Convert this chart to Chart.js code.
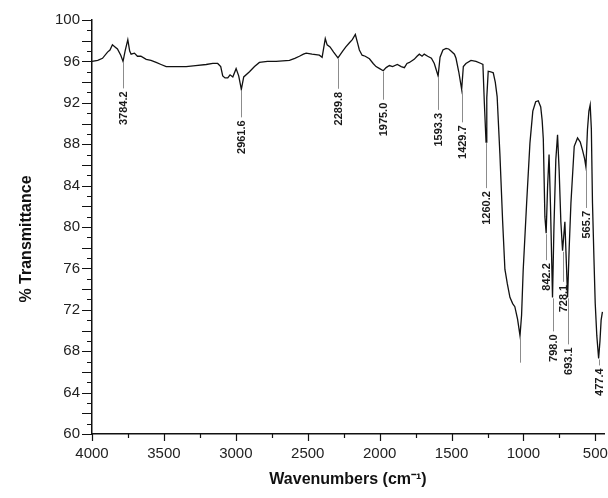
<!DOCTYPE html>
<html>
<head>
<meta charset="utf-8">
<script src="https://cdn.jsdelivr.net/npm/chart.js@4.4.0/dist/chart.umd.min.js"></script>
<style>
  html, body { margin: 0; padding: 0; background: #fff; }
</style>
</head>
<body>
<canvas id="irChart" width="608" height="498"></canvas>
<script>
// spectrum (cm-1 / %T)
const wavenumbers = [
  4000, 3960, 3927, 3892, 3875, 3858, 3840, 3823, 3800, 3784.2,
  3770, 3751, 3738, 3728, 3705, 3684, 3660, 3623, 3590, 3554,
  3520, 3484, 3420, 3345, 3280, 3206, 3160, 3126, 3105, 3091,
  3075, 3056, 3040, 3021, 2998, 2980, 2961.6, 2945, 2905, 2870,
  2836, 2780, 2720, 2627, 2590, 2558, 2530, 2511, 2470, 2419,
  2400, 2378, 2365, 2345, 2320, 2289.8, 2257, 2235, 2210, 2190,
  2169, 2150, 2141, 2122, 2100, 2071, 2045, 2025, 2000, 1975.0,
  1955, 1932, 1910, 1877, 1850, 1828, 1810, 1793, 1760, 1740,
  1724, 1705, 1690, 1666, 1640, 1620, 1593.3, 1580, 1560, 1538,
  1520, 1504, 1480, 1469, 1450, 1429.7, 1418, 1400, 1365, 1330,
  1295, 1282, 1272, 1260.2, 1255, 1245, 1228, 1210, 1196, 1183,
  1164, 1145, 1129, 1125, 1112, 1094, 1075, 1060, 1041, 1024,
  1013, 1002, 978, 955, 935, 915, 897, 880, 870, 862,
  851, 842.2, 832, 822, 812, 798.0, 788, 775, 763, 752,
  740, 728.1, 712, 703, 693.1, 682, 670, 647, 624, 605,
  589, 575, 565.7, 555, 545, 536, 528, 520, 510, 501,
  490, 477.4, 468, 460, 451
];
const transmittance = [
  96.0, 96.1, 96.3, 96.9, 97.1, 97.6, 97.4, 97.2, 96.6, 96.0,
  97.0, 98.1, 97.0, 96.7, 96.8, 96.5, 96.5, 96.2, 96.1, 95.9,
  95.7, 95.5, 95.5, 95.5, 95.6, 95.7, 95.8, 95.8, 95.5, 94.6,
  94.4, 94.4, 94.7, 94.5, 95.3, 94.6, 93.3, 94.5, 95.0, 95.5,
  95.9, 96.0, 96.0, 96.1, 96.3, 96.5, 96.7, 96.8, 96.7, 96.6,
  96.4, 98.2, 97.6, 97.4, 96.9, 96.35, 97.0, 97.4, 97.8, 98.1,
  98.6, 97.6, 97.1, 96.6, 96.5, 96.25, 95.8, 95.5, 95.3, 95.1,
  95.4, 95.6, 95.5, 95.7, 95.5, 95.4, 95.8, 95.9, 96.2, 96.5,
  96.7, 96.5, 96.7, 96.5, 96.3, 95.8, 94.6, 96.4, 97.1, 97.25,
  97.2, 97.0, 96.7, 96.3, 95.0, 93.3, 95.5, 95.8, 96.1, 96.0,
  95.8, 95.7, 92.0, 88.2, 92.5, 95.05, 95.0, 94.9, 94.0, 92.6,
  87.1, 80.6, 75.9, 75.6, 74.5, 73.2, 72.6, 72.3, 71.1, 69.5,
  71.5, 75.8, 82.3, 88.1, 91.2, 92.1, 92.2, 91.6, 90.3, 88.5,
  81.0, 79.4, 84.0, 87.0, 82.0, 73.2, 80.0, 86.5, 88.9, 85.5,
  80.5, 77.7, 80.5, 77.0, 73.2, 78.0, 82.3, 87.8, 88.6, 88.2,
  87.4, 86.6, 85.8, 89.4, 91.2, 91.8, 89.5, 82.3, 77.0, 72.6,
  69.5, 67.3, 69.0, 71.0, 71.8
];

// labelled bands (empty text = leader line only)
const peakWavenumbers = [3784.2, 2961.6, 2289.8, 1975.0, 1593.3, 1429.7, 1260.2, 1024, 842.2, 798.0, 728.1, 693.1, 565.7, 477.4];
const peakLabels = ["3784.2", "2961.6", "2289.8", "1975.0", "1593.3", "1429.7", "1260.2", "", "842.2", "798.0", "728.1", "693.1", "565.7", "477.4"];

// axis ticks
const xTickValues = [4000, 3500, 3000, 2500, 2000, 1500, 1000, 500];
const xMin = 440, xMax = 4000, xMinor = 250;
const yMin = 60, yMax = 100, yMajor = 2, yMinor = 1;

const FONT = '"Liberation Sans", Arial, sans-serif';

const axisTicks = {
  id: "axisTicks",
  afterDraw(chart) {
    const { ctx, chartArea, scales: { x, y } } = chart;
    ctx.save();
    ctx.strokeStyle = "#111";
    ctx.lineWidth = 1.2;
    ctx.beginPath();
    for (let v = yMin; v <= yMax; v += yMinor) {
      const py = Math.round(y.getPixelForValue(v)) + 0.5;
      const len = v % yMajor === 0 ? 10 : 5;
      ctx.moveTo(chartArea.left, py);
      ctx.lineTo(chartArea.left - len, py);
    }
    for (let v = 500; v <= xMax; v += xMinor) {
      const px = Math.round(x.getPixelForValue(v)) + 0.5;
      const len = xTickValues.includes(v) ? 7 : 4;
      ctx.moveTo(px, chartArea.bottom);
      ctx.lineTo(px, chartArea.bottom + len);
    }
    ctx.stroke();

    // y axis title
    ctx.translate(27, (chartArea.top + chartArea.bottom) / 2 + 12);
    ctx.rotate(-Math.PI / 2);
    ctx.font = "bold 16px " + FONT;
    ctx.fillStyle = "#111";
    ctx.textAlign = "center";
    ctx.textBaseline = "middle";
    ctx.fillText("% Transmittance", 0, 0);
    ctx.restore();
  }
};

const peakMarks = {
  id: "peakMarks",
  afterDatasetsDraw(chart, args, opts) {
    const { ctx, scales: { x, y } } = chart;
    ctx.save();
    peakWavenumbers.forEach((wn, i) => {
      const k = wavenumbers.indexOf(wn);
      const px = Math.round(x.getPixelForValue(wn)) + 0.5;
      const top = y.getPixelForValue(transmittance[k]) + 1;
      const bottom = top + opts.leaderLength[i];
      ctx.strokeStyle = "#8c8c8c";
      ctx.lineWidth = 1;
      ctx.beginPath();
      ctx.moveTo(px, top);
      ctx.lineTo(px, bottom);
      ctx.stroke();
      if (!peakLabels[i]) return;
      ctx.save();
      ctx.translate(px, bottom + 3);
      ctx.rotate(-Math.PI / 2);
      ctx.font = "bold 11px " + FONT;
      ctx.fillStyle = "#1a1a1a";
      ctx.textAlign = "right";
      ctx.textBaseline = "middle";
      ctx.fillText(peakLabels[i], 0, 0);
      ctx.restore();
    });
    ctx.restore();
  }
};

new Chart(document.getElementById("irChart"), {
  type: "line",
  data: {
    datasets: [
      {
        label: "IR",
        data: wavenumbers.map((wn, i) => ({ x: wn, y: transmittance[i] })),
        borderColor: "#111",
        borderWidth: 1.3,
        pointRadius: 0,
        tension: 0,
        fill: false,
      },
    ],
  },
  options: {
    responsive: false,
    animation: false,
    events: [],
    layout: {
      padding: { top: 20, right: 4, left: 0, bottom: 0 },
    },
    plugins: {
      legend: { display: false },
      tooltip: { enabled: false },
      peakMarks: {
        leaderLength: [26, 27, 30, 28, 33, 32, 45, 26, 26, 33, 30, 46, 40, 6],
      },
    },
    scales: {
      x: {
        type: "linear",
        reverse: true,
        min: xMin,
        max: xMax,
        grid: { display: false, drawTicks: false },
        border: { display: true, color: "#111", width: 1.5 },
        afterBuildTicks(scale) {
          scale.ticks = xTickValues.map((value) => ({ value }));
        },
        ticks: {
          maxRotation: 0,
          autoSkip: false,
          padding: 11,
          color: "#222",
          font: { family: FONT, size: 15 },
          callback: (value) => String(value),
        },
        title: {
          display: true,
          text: "Wavenumbers (cm\u207B\u00B9)",
          color: "#111",
          font: { family: FONT, size: 16, weight: "bold" },
          padding: { top: 0, bottom: 9 },
        },
        afterFit(scale) {
          scale.height = 64;
          scale.paddingLeft = 0;
          scale.paddingRight = 0;
        },
      },
      y: {
        min: yMin,
        max: yMax,
        grid: { display: false, drawTicks: false },
        border: { display: true, color: "#111", width: 1.5 },
        ticks: {
          stepSize: yMajor,
          padding: 12,
          color: "#222",
          font: { family: FONT, size: 15 },
        },
        afterFit(scale) {
          scale.width = 92;
          scale.paddingTop = 0;
          scale.paddingBottom = 0;
        },
      },
    },
  },
  plugins: [axisTicks, peakMarks],
});
</script>
</body>
</html>
